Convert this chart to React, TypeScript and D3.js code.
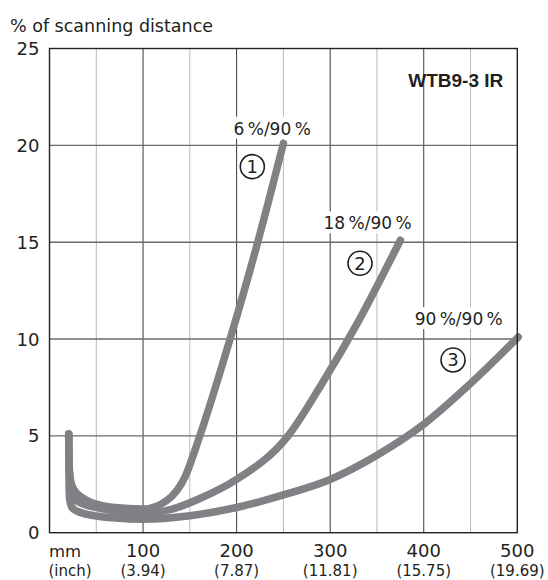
import React, { useEffect, useRef } from 'react';
import * as d3 from 'd3';

// ---- data ----
const xMajorTicks = [100, 200, 300, 400, 500];
const xInchLabels = ['(3.94)', '(7.87)', '(11.81)', '(15.75)', '(19.69)'];
const xMinorTicks = [50, 150, 250, 350, 450];
const yTicks = [0, 5, 10, 15, 20, 25];
const yGrid = [5, 10, 15, 20];

// curve 1: 6%/90%
const curve1: [number, number][] = [
  [20.5, 5.1], [21, 3.5], [23, 2.6], [28, 2.1], [34, 1.85], [52, 1.45], [80, 1.26],
  [100, 1.22], [125, 1.65], [145, 2.9], [160, 4.9], [193, 10], [222, 14.9], [250, 20.1],
];
// curve 2: 18%/90%
const curve2: [number, number][] = [
  [20.5, 5.1], [21, 3.4], [22.5, 2.4], [26, 1.75], [35, 1.5], [55, 1.25], [80, 1.08],
  [100, 1.0], [130, 1.2], [160, 1.75], [200, 2.75], [255, 5.0],
  [290, 7.6], [330, 10.9], [375, 15.1],
];
// curve 3: 90%/90%
const curve3: [number, number][] = [
  [20.5, 5.1], [20.8, 3.0], [21.3, 1.8], [24, 1.3], [30, 1.1], [36, 1.0], [50, 0.86],
  [70, 0.76], [100, 0.7], [150, 0.88], [200, 1.3], [250, 1.95], [300, 2.75],
  [350, 4.0], [400, 5.6], [450, 7.7], [501, 10.1],
];
const curves = [curve1, curve2, curve3];

const curveLabels = ['6\u2009%/90\u2009%', '18\u2009%/90\u2009%', '90\u2009%/90\u2009%'];
const labelX = [238, 340, 437.4];
const labelY = [20.55, 15.66, 10.72];
const markNumbers = ['1', '2', '3'];
const markX = [216.8, 331.9, 431.3];
const markY = [18.9, 13.91, 8.92];

const yTitle = '% of scanning distance';
const chartTitle = 'WTB9-3 IR';

export default function App() {
  const ref = useRef<SVGSVGElement | null>(null);

  useEffect(() => {
    document.body.style.margin = '0';
    const svg = d3.select(ref.current);
    svg.selectAll('*').remove();

    const left = 49.5, right = 517.3, top = 48.5, bottom = 532.7;
    const x = d3.scaleLinear().domain([0, 500]).range([left, right]);
    const y = d3.scaleLinear().domain([0, 25]).range([bottom, top]);
    const font = 'DejaVu Sans, sans-serif';
    const ink = '#231f20';

    const g = svg.append('g');

    // minor vertical grid
    g.selectAll('line.minor').data(xMinorTicks).enter().append('line')
      .attr('x1', d => x(d)).attr('x2', d => x(d)).attr('y1', top).attr('y2', bottom)
      .attr('stroke', '#b8b8b8').attr('stroke-width', 1);
    // major vertical grid
    g.selectAll('line.major').data(xMajorTicks.slice(0, 4)).enter().append('line')
      .attr('x1', d => x(d)).attr('x2', d => x(d)).attr('y1', top).attr('y2', bottom)
      .attr('stroke', '#3a3a3a').attr('stroke-width', 1);
    // horizontal grid
    g.selectAll('line.h').data(yGrid).enter().append('line')
      .attr('x1', left).attr('x2', right).attr('y1', d => y(d)).attr('y2', d => y(d))
      .attr('stroke', '#6a6a6a').attr('stroke-width', 1.4);

    // curves
    const line = d3.line<[number, number]>()
      .x(d => x(d[0])).y(d => y(d[1]))
      .curve(d3.curveMonotoneX);
    g.selectAll('path.curve').data(curves).enter().append('path')
      .attr('d', d => line(d) as string)
      .attr('fill', 'none').attr('stroke', '#818185').attr('stroke-width', 7.5)
      .attr('stroke-linecap', 'round').attr('stroke-linejoin', 'round');

    // frame
    g.append('rect').attr('x', left).attr('y', top)
      .attr('width', right - left).attr('height', bottom - top)
      .attr('fill', 'none').attr('stroke', '#222').attr('stroke-width', 1.4);

    // y tick labels
    g.selectAll('text.yt').data(yTicks).enter().append('text')
      .attr('x', 39.5).attr('y', d => y(d) + 6.5)
      .attr('text-anchor', 'end').attr('font-family', font).attr('font-size', 18)
      .attr('fill', ink).text(d => String(d));

    // x tick labels
    g.selectAll('text.xt').data(xMajorTicks).enter().append('text')
      .attr('x', d => x(d)).attr('y', 557.3)
      .attr('text-anchor', 'middle').attr('font-family', font).attr('font-size', 18)
      .attr('fill', ink).text(d => String(d));
    g.selectAll('text.xi').data(xInchLabels).enter().append('text')
      .attr('x', (_d, i) => x(xMajorTicks[i])).attr('y', 576)
      .attr('text-anchor', 'middle').attr('font-family', font).attr('font-size', 15)
      .attr('fill', ink).text(d => d);
    g.append('text').attr('x', 49).attr('y', 557.3)
      .attr('font-family', font).attr('font-size', 16.5).attr('fill', ink).text('mm');
    g.append('text').attr('x', 48.5).attr('y', 576)
      .attr('font-family', font).attr('font-size', 15).attr('fill', ink).text('(inch)');

    // y title
    g.append('text').attr('x', 10).attr('y', 31.5)
      .attr('font-family', font).attr('font-size', 17.5).attr('fill', ink).text(yTitle);

    // chart title
    g.append('text').attr('x', 503.3).attr('y', 87.3).attr('text-anchor', 'end')
      .attr('font-family', 'Liberation Sans, Arial, sans-serif').attr('font-weight', 'bold')
      .attr('font-size', 19).attr('fill', ink).text(chartTitle);

    // curve labels with white boxes
    curveLabels.forEach((txt, i) => {
      const lg = g.append('g');
      const rect = lg.append('rect').attr('fill', '#fff');
      const t = lg.append('text').attr('x', x(labelX[i])).attr('y', y(labelY[i]))
        .attr('text-anchor', 'middle').attr('font-family', font).attr('font-size', 17)
        .attr('fill', ink).text(txt);
      const bb = (t.node() as SVGTextElement).getBBox();
      rect.attr('x', bb.x - 5).attr('y', bb.y - 2).attr('width', bb.width + 10).attr('height', bb.height + 2);
    });

    // circled numbers
    markNumbers.forEach((m, i) => {
      const cx = x(markX[i]), cy = y(markY[i]);
      g.append('circle').attr('cx', cx).attr('cy', cy).attr('r', 12)
        .attr('fill', 'none').attr('stroke', ink).attr('stroke-width', 1.6);
      g.append('text').attr('x', cx).attr('y', cy + 6.5).attr('text-anchor', 'middle')
        .attr('font-family', font).attr('font-size', 18).attr('fill', ink).text(m);
    });
  }, []);

  return (
    <svg ref={ref} width={548} height={580}
      style={{ position: 'absolute', left: 0, top: 0, background: '#fff' }} />
  );
}
